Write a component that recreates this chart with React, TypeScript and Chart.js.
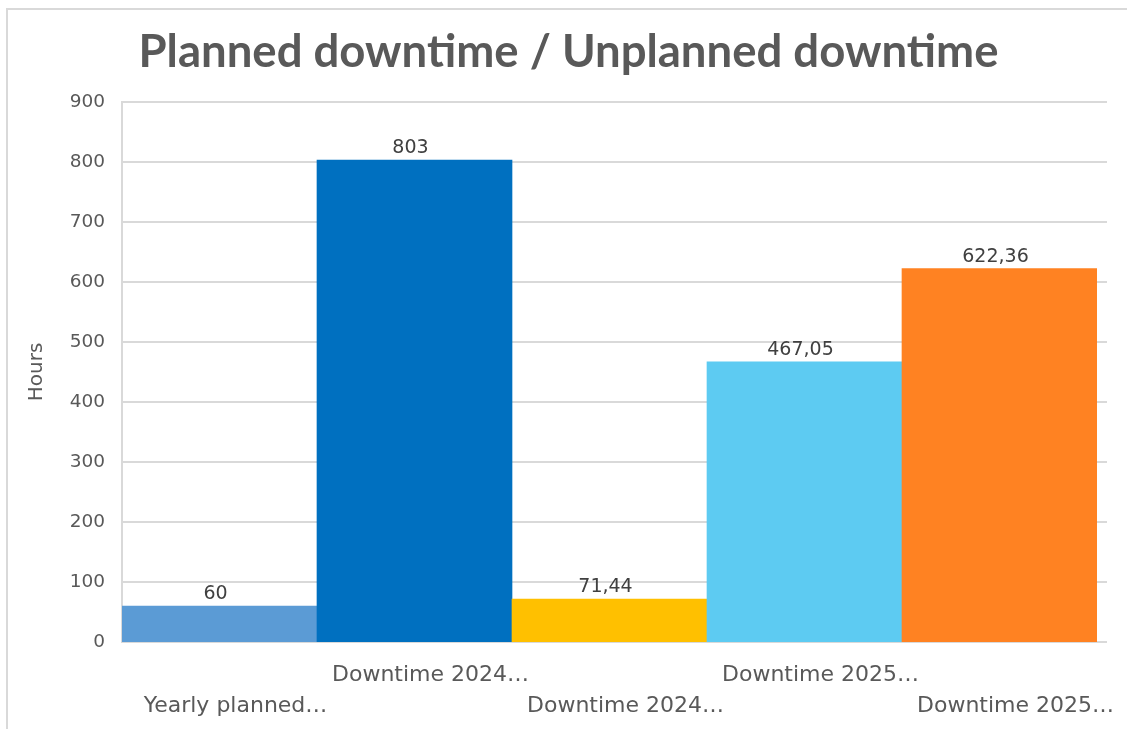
import React, { useEffect, useRef } from 'react';
import { Chart, registerables } from 'chart.js';

Chart.register(...registerables);

const chartTitle = 'Planned downtime / Unplanned downtime';
const yAxisTitle = 'Hours';
const categories = ['Yearly planned…', 'Downtime 2024…', 'Downtime 2024…', 'Downtime 2025…', 'Downtime 2025…'];
const values = [60, 803, 71.44, 467.05, 622.36];
const barColors = ['#5B9BD5', '#0070C0', '#FFC000', '#5DCBF2', '#FF8222'];
const yMin = 0;
const yMax = 900;
const yStep = 100;

const FONT = '"DejaVu Sans", "Noto Sans", sans-serif';
const TITLE_FONT = 'Lato, "Noto Sans", sans-serif';
const TEXT = '#595959';
const GRID = '#d9d9d9';

const fmt = (v: number) => String(v).replace('.', ',');

const titlePlugin = {
  id: 'customTitle',
  afterDraw(chart: any) {
    const ctx = chart.ctx;
    ctx.save();
    ctx.font = `bold 45.5px ${TITLE_FONT}`;
    ctx.fillStyle = TEXT;
    ctx.textAlign = 'center';
    ctx.textBaseline = 'alphabetic';
    ctx.fillText(chartTitle, 568.5, 67);
    ctx.restore();
  },
};

const gridPlugin = {
  id: 'extendedGrid',
  beforeDatasetsDraw(chart: any) {
    const ctx = chart.ctx;
    const y = chart.scales.y;
    const area = chart.chartArea;
    ctx.save();
    ctx.strokeStyle = GRID;
    ctx.lineWidth = 2;
    y.ticks.forEach((t: any) => {
      const py = Math.round(y.getPixelForValue(t.value));
      ctx.beginPath();
      ctx.moveTo(area.left, py);
      ctx.lineTo(area.right + 10, py);
      ctx.stroke();
    });
    ctx.restore();
  },
};

const dataLabelPlugin = {
  id: 'dataLabels',
  afterDatasetsDraw(chart: any) {
    const ctx = chart.ctx;
    const meta = chart.getDatasetMeta(0);
    ctx.save();
    ctx.font = `19px ${FONT}`;
    ctx.fillStyle = '#404040';
    ctx.textAlign = 'center';
    ctx.textBaseline = 'alphabetic';
    meta.data.forEach((el: any, i: number) => {
      ctx.fillText(fmt(values[i]), el.x - 4, el.y - 7);
    });
    ctx.restore();
  },
};

export default function App() {
  const ref = useRef<HTMLCanvasElement | null>(null);
  useEffect(() => {
    if (!ref.current) return;
    const labels = categories.map((c, i) => (i % 2 === 0 ? ['', c] : [c, '']));
    const chart = new Chart(ref.current, {
      type: 'bar',
      data: {
        labels,
        datasets: [
          {
            data: values,
            backgroundColor: barColors,
            borderWidth: 0,
            categoryPercentage: 1,
            barPercentage: 1,
          },
        ],
      },
      plugins: [gridPlugin, dataLabelPlugin, titlePlugin],
      options: {
        animation: false,
        responsive: false,
        maintainAspectRatio: false,
        layout: { padding: { left: 0, right: 30, top: 102, bottom: 0 } },
        plugins: {
          legend: { display: false },
          tooltip: { enabled: false },
          title: { display: false },
        },
        scales: {
          x: {
            grid: { display: false },
            border: { display: false },
            ticks: {
              color: TEXT,
              font: { family: FONT, size: 22, lineHeight: 31 / 22 },
              padding: 10,
              autoSkip: false,
              maxRotation: 0,
              minRotation: 0,
              labelOffset: 16,
            },
            afterFit: (s: any) => {
              s.height = 87;
            },
          },
          y: {
            min: yMin,
            max: yMax,
            grid: { display: false, drawTicks: false },
            border: { display: true, color: GRID, width: 2 },
            ticks: {
              stepSize: yStep,
              color: TEXT,
              font: { family: FONT, size: 18.5 },
              padding: 17,
            },
            title: {
              display: true,
              text: yAxisTitle,
              color: TEXT,
              font: { family: FONT, size: 20, lineHeight: 1.2 },
              padding: { top: 25, bottom: 0 },
            },
            afterFit: (s: any) => {
              s.width = 122;
            },
          },
        },
      },
    });
    return () => chart.destroy();
  }, []);

  return (
    <div style={{ position: 'fixed', left: 0, top: 0, width: 1127, height: 729, overflow: 'hidden', background: '#fff' }}>
      <div
        style={{
          position: 'absolute',
          left: 6,
          top: 8,
          width: 1400,
          height: 1000,
          borderTop: `2px solid ${GRID}`,
          borderLeft: `2px solid ${GRID}`,
        }}
      />
      <canvas ref={ref} width={1127} height={729} style={{ position: 'absolute', left: 0, top: 0 }} />
    </div>
  );
}
